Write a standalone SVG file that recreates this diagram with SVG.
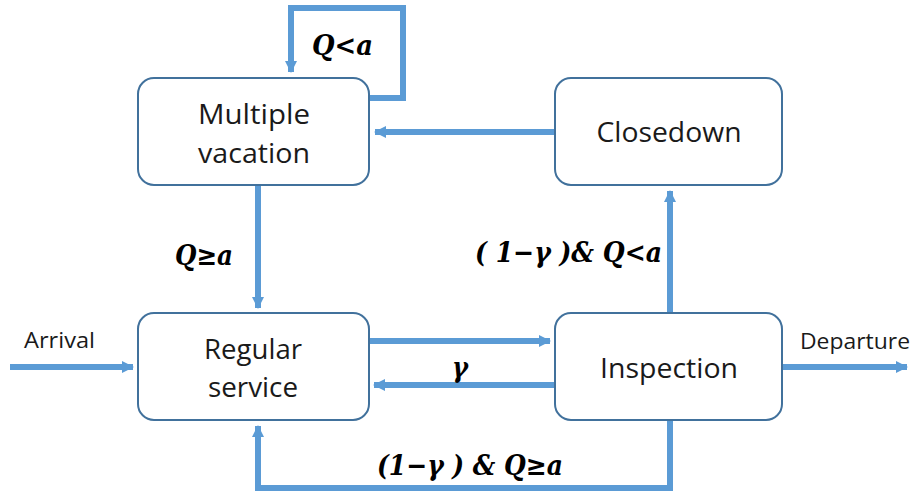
<svg xmlns="http://www.w3.org/2000/svg" width="914" height="496" viewBox="0 0 914 496">
<defs>
<marker id="ah" markerUnits="userSpaceOnUse" markerWidth="14" markerHeight="14" refX="11" refY="7" orient="auto">
<path d="M0,1 L12,7 L0,13 z" fill="#5b9bd5"/>
</marker>
<style>
.box{fill:#fff;stroke:#41719c;stroke-width:2}
.lbl{font-family:"Open Sans","Liberation Sans",sans-serif;font-size:27px;fill:#1a1a1a;text-anchor:middle}
.sm{font-family:"Open Sans","Liberation Sans",sans-serif;font-size:21px;fill:#1a1a1a}
.m{font-family:"DejaVu Serif","Liberation Serif",serif;font-size:28px;font-weight:bold;font-style:italic;fill:#000}
.c{fill:none;stroke:#5b9bd5;stroke-width:6}
</style>
</defs>
<rect width="914" height="496" fill="#fff"/>
<g id="connectors">
<path class="c" d="M369,98 H403 V8 H291 V72" marker-end="url(#ah)"/>
<path class="c" d="M555,132 H375" marker-end="url(#ah)"/>
<path class="c" d="M258,186 V308" marker-end="url(#ah)"/>
<path class="c" d="M369,341 H550" marker-end="url(#ah)"/>
<path class="c" d="M555,385 H374" marker-end="url(#ah)"/>
<path class="c" d="M670,313 V191" marker-end="url(#ah)"/>
<path class="c" d="M670,421 V488 H258 V426" marker-end="url(#ah)"/>
<path class="c" d="M10,367 H133" marker-end="url(#ah)"/>
<path class="c" d="M782,367 H907" marker-end="url(#ah)"/>
</g>
<g id="multiple-vacation">
<rect class="box" x="138" y="78" width="231" height="107" rx="16"/>
<text class="lbl" x="254" y="124" textLength="112" lengthAdjust="spacingAndGlyphs">Multiple</text>
<text class="lbl" x="254" y="163" textLength="112" lengthAdjust="spacingAndGlyphs">vacation</text>
</g>
<g id="closedown">
<rect class="box" x="555" y="78" width="227" height="107" rx="16"/>
<text class="lbl" x="669" y="142" textLength="145" lengthAdjust="spacingAndGlyphs">Closedown</text>
</g>
<g id="regular-service">
<rect class="box" x="138" y="313" width="231" height="107" rx="16"/>
<text class="lbl" x="253" y="359" textLength="98" lengthAdjust="spacingAndGlyphs">Regular</text>
<text class="lbl" x="253" y="397" textLength="90" lengthAdjust="spacingAndGlyphs">service</text>
</g>
<g id="inspection">
<rect class="box" x="555" y="313" width="227" height="107" rx="16"/>
<text class="lbl" x="669" y="378" textLength="138" lengthAdjust="spacingAndGlyphs">Inspection</text>
</g>
<g id="labels">
<text class="m" x="312" y="55" textLength="61" lengthAdjust="spacingAndGlyphs">Q&lt;a</text>
<text class="m" x="175" y="265" textLength="58" lengthAdjust="spacingAndGlyphs">Q≥a</text>
<text class="m" x="475" y="262" textLength="187" lengthAdjust="spacingAndGlyphs">( 1−γ )&amp; Q&lt;a</text>
<text class="m" x="452" y="377" textLength="16" lengthAdjust="spacingAndGlyphs">γ</text>
<text class="m" x="377" y="475" textLength="186" lengthAdjust="spacingAndGlyphs">(1−γ ) &amp; Q≥a</text>
<text class="sm" x="24" y="348" textLength="71" lengthAdjust="spacingAndGlyphs">Arrival</text>
<text class="sm" x="800" y="349" textLength="110" lengthAdjust="spacingAndGlyphs">Departure</text>
</g>
</svg>
